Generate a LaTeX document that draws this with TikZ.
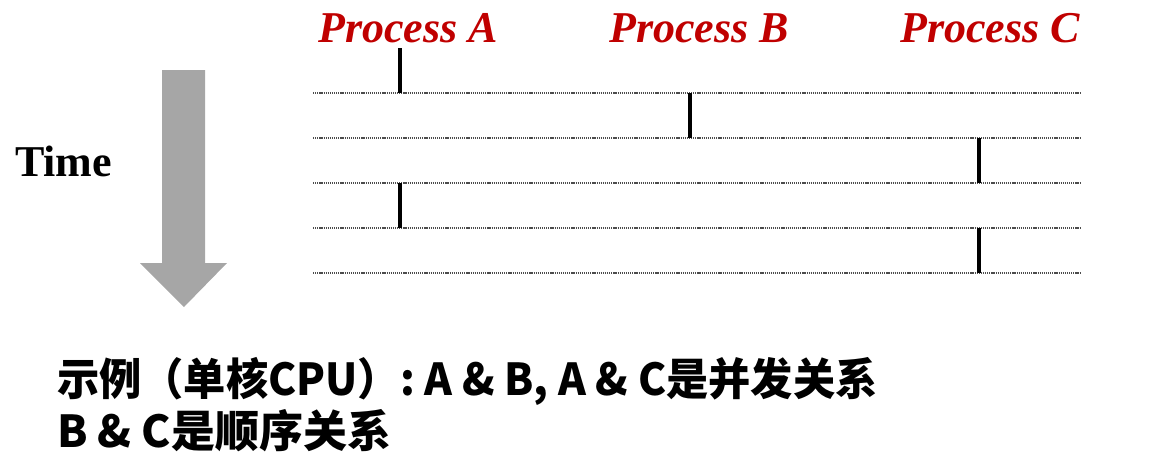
\documentclass[tikz,border=0pt]{standalone}
\usepackage{fontspec}
\setmainfont{Liberation Serif}
\newfontfamily\cjk{Noto Sans CJK SC}
\definecolor{procred}{RGB}{192,0,0}

\begin{document}
\begin{tikzpicture}[x=1pt,y=-1pt,
    proc/.style={text=procred,font=\fontsize{44}{50}\selectfont\bfseries\itshape,anchor=base,inner sep=0pt},
    slot/.style={gray!60!black,line width=1.2pt,dash pattern=on 1.2pt off 0.9pt},
    run/.style={black,line width=3.5pt},
    note/.style={font=\cjk\bfseries\fontsize{44}{52}\selectfont,anchor=base west,inner sep=0pt}]
  \useasboundingbox (0,0) rectangle (1162,461);
  % process names
  \node[proc] (procA) at (408,42) {Process A};
  \node[proc] (procB) at (699,42) {Process B};
  \node[proc] (procC) at (990,42) {Process C};
  % columns where each process runs
  \coordinate (colA) at (400,0);
  \coordinate (colB) at (690,0);
  \coordinate (colC) at (979,0);
  % time slices, one every 45px
  \foreach \i/\y in {0/48,1/93,2/138,3/183,4/228,5/273} {
    \coordinate (l\i) at (313,\y);
    \coordinate (r\i) at (1081,\y);
  }
  \foreach \i in {1,...,5}
    \draw[slot] (l\i) -- (r\i);
  % who runs in which slice
  \draw[run] (l0 -| colA) -- (l1 -| colA);
  \draw[run] (l1 -| colB) -- (l2 -| colB);
  \draw[run] (l2 -| colC) -- (l3 -| colC);
  \draw[run] (l3 -| colA) -- (l4 -| colA);
  \draw[run] (l4 -| colC) -- (l5 -| colC);
  % time arrow
  \fill[gray!70] (162,70) -- (205,70) -- (205,263) -- (227,263) -- (184,307)
    -- (140,263) -- (162,263) -- cycle;
  \node[font=\fontsize{44}{50}\selectfont\bfseries,anchor=base west,inner sep=0pt]
    (time) at (15,176) {Time};
  % remark
  \node[note] (note1) at (57,395)
    {\scalebox{0.96}[1]{示例（单核CPU）: A \& B, A \& C是并发关系}};
  \node[note] (note2) at (57,447) {B \& C是顺序关系};
\end{tikzpicture}
\end{document}
